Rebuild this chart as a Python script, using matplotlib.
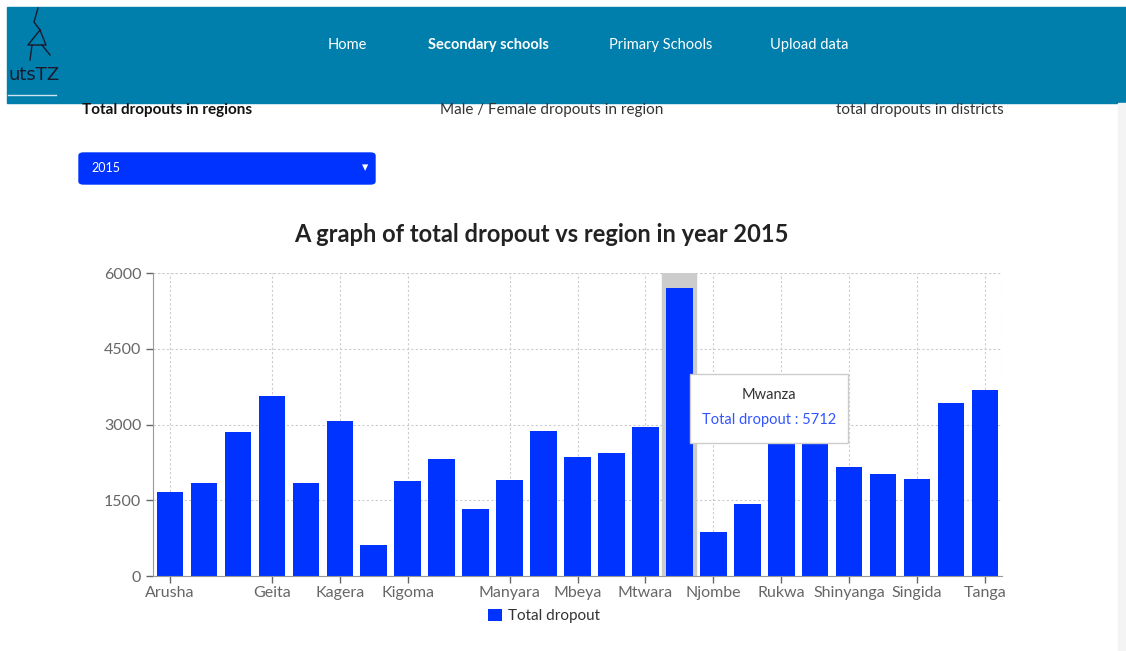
import matplotlib.pyplot as plt
from matplotlib.patches import Rectangle, FancyBboxPatch

plt.rcParams['font.family'] = ['Lato', 'DejaVu Sans']

# data (Rukwa / Ruvuma are hidden by the tooltip, estimated)
regions = ["Arusha", "Dar es Salaam", "Dodoma", "Geita", "Iringa", "Kagera", "Katavi",
           "Kigoma", "Kilimanjaro", "Lindi", "Manyara", "Mara", "Mbeya", "Morogoro",
           "Mtwara", "Mwanza", "Njombe", "Pwani", "Rukwa", "Ruvuma", "Shinyanga",
           "Simiyu", "Singida", "Tabora", "Tanga"]
dropouts = [1660, 1837, 2848, 3555, 1844, 3073, 615, 1883, 2313, 1322, 1903, 2868, 2352,
            2432, 2960, 5712, 879, 1427, 3050, 2950, 2161, 2022, 1916, 3416, 3681]
shown_ticks = ["Arusha", "Geita", "Kagera", "Kigoma", "Manyara", "Mbeya", "Mtwara",
               "Njombe", "Rukwa", "Shinyanga", "Singida", "Tanga"]
y_ticks = [0, 1500, 3000, 4500, 6000]
year = 2015
hover = "Mwanza"

W, H = 1126, 651
fig = plt.figure(figsize=(W / 100, H / 100), dpi=100)


def fx(px):
    return px / W


def fy(py):
    return 1 - py / H


# page header bar
fig.patches.append(Rectangle((fx(7), fy(103)), 1 - fx(7), 96 / H, transform=fig.transFigure,
                             color="#007fad", zorder=0))
fig.patches.append(Rectangle((fx(1118), 0), fx(8), fy(103), transform=fig.transFigure,
                             color="#f4f4f4", zorder=0))
fig.text(fx(8), fy(75), "utsTZ", color="#1a1a2e", fontsize=13, va="center", ha="left",
         family=["Liberation Sans Narrow", "DejaVu Sans"])
fig.lines.append(plt.Line2D([fx(8), fx(56)], [fy(95), fy(95)], transform=fig.transFigure,
                            color="#cfe3ee", lw=1))
# little stick figure of the logo
fig.lines.append(plt.Line2D([fx(38), fx(34), fx(40), fx(28), fx(46), fx(40)],
                            [fy(8), fy(22), fy(30), fy(45), fy(45), fy(30)],
                            transform=fig.transFigure, color="#1a1a2e", lw=1))
fig.lines.append(plt.Line2D([fx(32), fx(30)], [fy(45), fy(60)], transform=fig.transFigure,
                            color="#1a1a2e", lw=1))
fig.lines.append(plt.Line2D([fx(42), fx(50)], [fy(45), fy(55)], transform=fig.transFigure,
                            color="#1a1a2e", lw=1))

for label, x, bold in [("Home", 347, False), ("Secondary schools", 488, True),
                       ("Primary Schools", 661, False), ("Upload data", 809, False)]:
    fig.text(fx(x), fy(45), label, color="white", fontsize=10.5, ha="center", va="center",
             fontweight="bold" if bold else "normal")

fig.text(fx(82), fy(110), "Total dropouts in regions", fontsize=11, fontweight="bold",
         color="#111111", ha="left", va="center")
fig.text(fx(552), fy(110), "Male / Female dropouts in region", fontsize=11,
         color="#333333", ha="center", va="center")
fig.text(fx(1004), fy(110), "total dropouts in districts", fontsize=11,
         color="#333333", ha="right", va="center")

# year dropdown
fig.patches.append(FancyBboxPatch((fx(79), fy(184)), fx(296), 31 / H,
                                  boxstyle="round,pad=0,rounding_size=0.004",
                                  transform=fig.transFigure, color="#0033ff"))
fig.text(fx(91), fy(168), str(year), color="white", fontsize=9, ha="left", va="center")
fig.text(fx(365), fy(168), "▾", color="white", fontsize=9, ha="center", va="center",
         family=["DejaVu Sans"])

fig.text(fx(541), fy(234), f"A graph of total dropout vs region in year {year}",
         fontsize=17, fontweight="bold", color="#222222", ha="center", va="center")

# chart
ax = fig.add_axes([fx(153), fy(576), fx(1002 - 153), (576 - 273) / H])
xs = list(range(len(regions)))
hi = regions.index(hover)
ax.axvspan(hi - 0.5, hi + 0.5, color="#cccccc", zorder=1)
ax.bar(xs, dropouts, width=0.78, color="#0033ff", zorder=2, label="Total dropout")

ax.set_xlim(-0.5, len(regions) - 0.5)
ax.set_ylim(0, 6000)
ax.set_yticks(y_ticks)
ax.set_xticks([regions.index(r) for r in shown_ticks])
ax.set_xticklabels(shown_ticks)
ax.tick_params(colors="#666666", labelsize=11.5, length=5, width=1)
ax.tick_params(axis="x", pad=2)
ax.grid(True, color="#cccccc", linestyle=(0, (2, 2)), lw=0.8, zorder=0)
ax.set_axisbelow(True)
for side in ["top", "right"]:
    ax.spines[side].set_visible(False)
ax.spines["left"].set_color("#999999")
ax.spines["bottom"].set_color("#999999")
ax.axhline(6000, color="#cccccc", linestyle=(0, (2, 2)), lw=0.8, zorder=0)
ax.axvline(len(regions) - 0.5, color="#cccccc", linestyle=(0, (2, 2)), lw=0.8, zorder=0)

leg = ax.legend(loc="center", bbox_to_anchor=(fx(544 - 153) / fx(849), -40 / 303),
                frameon=False, handlelength=0.9, handleheight=0.9, handletextpad=0.4,
                fontsize=11)
for t in leg.get_texts():
    t.set_color("#333333")

# hover tooltip
fig.patches.append(Rectangle((fx(690), fy(443)), fx(158), 69 / H, transform=fig.transFigure,
                             facecolor="white", edgecolor="#cccccc", lw=1, zorder=5))
fig.text(fx(769), fy(395), hover, color="#333333", fontsize=10.5, ha="center", va="center",
         zorder=6)
fig.text(fx(769), fy(420), f"Total dropout : {dropouts[hi]}", color="#3355ff",
         fontsize=10.5, ha="center", va="center", zorder=6)

fig.savefig("out.png", dpi=100, facecolor="white")
